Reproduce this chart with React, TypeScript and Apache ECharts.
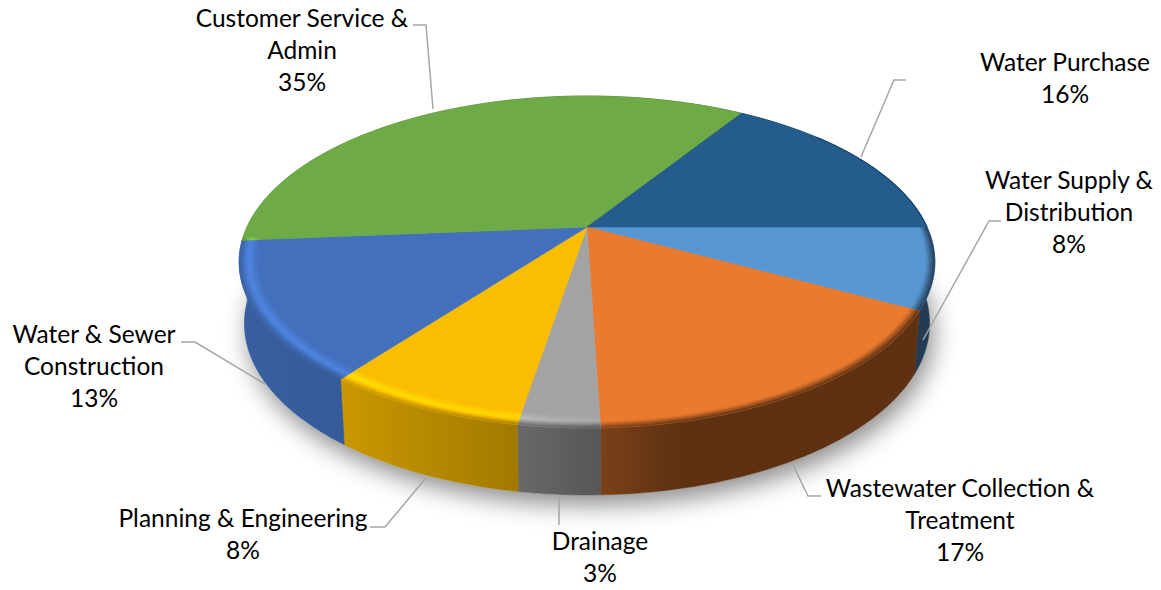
import React, { useEffect, useRef } from "react";
import * as echarts from "echarts";

const categories = [
  "Water Supply &\nDistribution",
  "Wastewater Collection &\nTreatment",
  "Drainage",
  "Planning & Engineering",
  "Water & Sewer\nConstruction",
  "Customer Service &\nAdmin",
  "Water Purchase",
];
const percentLabels = ["8%", "17%", "3%", "8%", "13%", "35%", "16%"];
const sliceShares = [7.9, 16.6, 3.1, 7.7, 13.4, 35.3, 16.0];

const sliceColors = ["#5897D3", "#E97A2E", "#A3A3A3", "#FBBD00", "#4270BD", "#6EAB47", "#245C8E"];

// Layout only: label centres and leader-line routes, in the same order as categories.
const labelCentres: [number, number][] = [
  [1069, 211], [960, 519], [600, 556], [243, 533], [94, 365], [302, 49], [1065, 77],
];
const leaderRoutes: [number, number][][] = [
  [[1001, 221], [989, 221], [923, 340]],
  [[821, 496], [808, 496], [792, 463]],
  [[559, 498], [559, 525]],
  [[426, 478], [385, 527], [370, 527]],
  [[181, 342], [195, 342], [265, 384]],
  [[413, 25], [426, 25], [433, 109]],
  [[906, 80], [894, 80], [861, 157]],
];

const CX = 587, CY = 227, B = 340, A = 158.6, K = 0.2108;
const LEFT = 239, RIGHT = 935;

const project = (deg: number, r = 1): [number, number] => {
  const t = (deg * Math.PI) / 180;
  const u = r * Math.cos(t), v = r * Math.sin(t);
  const d = 1 - K * v;
  return [CX + (B * u) / d, CY + (A * v) / d];
};
const projectBase = (deg: number): [number, number] => {
  const [x, y] = project(deg);
  const v = Math.sin((deg * Math.PI) / 180);
  return [CX + (x - CX) * 0.985, y + 60 + 7 * v];
};
const arc = (from: number, to: number, fn: (d: number) => [number, number]) => {
  const n = Math.max(2, Math.ceil(Math.abs(to - from)));
  const out: [number, number][] = [];
  for (let i = 0; i <= n; i++) out.push(fn(from + ((to - from) * i) / n));
  return out;
};
const hexRgb = (h: string) => [1, 3, 5].map((i) => parseInt(h.slice(i, i + 2), 16));
const shade = (hex: string, f: number) => {
  const [r, g, b] = hexRgb(hex).map((c) => Math.min(255, Math.round(c * f)));
  return `rgb(${r},${g},${b})`;
};
const wallStops: [number, number][] = [[239, 0.85], [345, 0.8], [520, 0.64], [601, 0.53], [680, 0.4], [935, 0.4]];
const wallFactor = (x: number) => {
  for (let i = 1; i < wallStops.length; i++) {
    if (x <= wallStops[i][0]) {
      const [x0, f0] = wallStops[i - 1], [x1, f1] = wallStops[i];
      return f0 + ((f1 - f0) * (x - x0)) / (x1 - x0);
    }
  }
  return 0.4;
};
const xGradient = (stops: { offset: number; color: string }[]) =>
  new echarts.graphic.LinearGradient(LEFT, 0, RIGHT, 0, stops, true);
const wallFill = (base: string) =>
  xGradient(wallStops.map(([x, f]) => ({ offset: (x - LEFT) / (RIGHT - LEFT), color: shade(base, f) })));
const bevelFill = (base: string, t: number) => {
  const xs = [239, 345, 520, 560, 620, 700, 935];
  return xGradient(
    xs.map((x) => {
      const L = Math.max(0, Math.min(1, (620 - x) / 120));
      const h = 1 + 0.2 * L;
      const f = t < 0.5 ? 1 + (h - 1) * (t / 0.5) : h + (wallFactor(x) - h) * ((t - 0.5) / 0.5);
      return { offset: (x - LEFT) / (RIGHT - LEFT), color: shade(base, f) };
    }),
  );
};
const startOf = (i: number) => sliceShares.slice(0, i).reduce((a, b) => a + b, 0) * 3.6;
const seriesData = categories.map((name, i) => ({ name, value: sliceShares[i] }));

export default function App() {
  const ref = useRef<HTMLDivElement>(null);
  useEffect(() => {
    if (!ref.current) return;
    const chart = echarts.init(ref.current, undefined, { renderer: "svg" });
    const rings = [0, 1, 2, 3, 4, 5, 6, 7];
    const R0 = 0.95;
    chart.setOption({
      animation: false,
      backgroundColor: "#fff",
      series: [
        {
          type: "custom",
          name: "shadow",
          coordinateSystem: "none",
          silent: true,
          z: 1,
          data: [1],
          renderItem: () => ({
            type: "polygon",
            shape: { points: arc(0, 360, projectBase) },
            style: { fill: "#cfcfcf", shadowBlur: 24, shadowColor: "rgba(0,0,0,0.45)", shadowOffsetX: 4, shadowOffsetY: 10 },
          }),
        },
        {
          type: "custom",
          name: "walls",
          coordinateSystem: "none",
          silent: true,
          z: 2,
          data: seriesData,
          renderItem: (p: any, api: any) => {
            const a = startOf(p.dataIndex);
            const b = a + api.value(0) * 3.6;
            const fill = wallFill(sliceColors[p.dataIndex]);
            return {
              type: "polygon",
              shape: { points: [...arc(a, b, project), ...arc(a, b, projectBase).reverse()] },
              style: { fill, stroke: fill, lineWidth: 0.6 },
            };
          },
        },
        {
          type: "custom",
          name: "faces",
          coordinateSystem: "none",
          silent: true,
          z: 3,
          data: seriesData,
          renderItem: (p: any, api: any) => {
            const i = p.dataIndex;
            const a = startOf(i);
            const b = a + api.value(0) * 3.6;
            const base = sliceColors[i];
            const children: any[] = [
              {
                type: "polygon",
                shape: { points: [[CX, CY], ...arc(a, b, project)] },
                style: { fill: base, stroke: base, lineWidth: 0.6 },
              },
            ];
            const fa = a, fb = Math.min(b, 176);
            if (fb > fa) {
              rings.forEach((k) => {
                const r0 = R0 + ((1 - R0) * k) / rings.length;
                const r1 = R0 + ((1 - R0) * (k + 1)) / rings.length;
                const fill = bevelFill(base, (k + 0.5) / rings.length);
                children.push({
                  type: "polygon",
                  shape: {
                    points: [
                      ...arc(fa, fb, (d) => project(d, r0)),
                      ...arc(fa, fb, (d) => project(d, r1)).reverse(),
                    ],
                  },
                  style: { fill, stroke: fill, lineWidth: 0.5 },
                });
              });
            }
            const ea = Math.max(a, 320), eb = Math.min(b, 360);
            if (eb > ea) {
              children.push({
                type: "polyline",
                shape: { points: arc(ea, eb, project) },
                style: { stroke: shade(base, 0.75), lineWidth: 1.2, fill: "none" },
              });
            }
            return { type: "group", children };
          },
        },
        {
          type: "custom",
          name: "labels",
          coordinateSystem: "none",
          silent: true,
          z: 4,
          data: seriesData,
          renderItem: (p: any) => {
            const i = p.dataIndex;
            return {
              type: "group",
              children: [
                {
                  type: "polyline",
                  shape: { points: leaderRoutes[i] },
                  style: { stroke: "#A6A6A6", lineWidth: 1.5, fill: "none" },
                },
                {
                  type: "text",
                  x: labelCentres[i][0],
                  y: labelCentres[i][1],
                  style: {
                    text: `${categories[i]}\n${percentLabels[i]}`,
                    fill: "#000",
                    font: '24.5px Lato, "Noto Sans", sans-serif',
                    lineHeight: 32,
                    align: "center",
                    verticalAlign: "middle",
                  },
                },
              ],
            };
          },
        },
      ],
    });
    return () => chart.dispose();
  }, []);
  return (
    <div
      ref={ref}
      style={{ position: "absolute", left: 0, top: 0, width: 1161, height: 590 }}
    />
  );
}
